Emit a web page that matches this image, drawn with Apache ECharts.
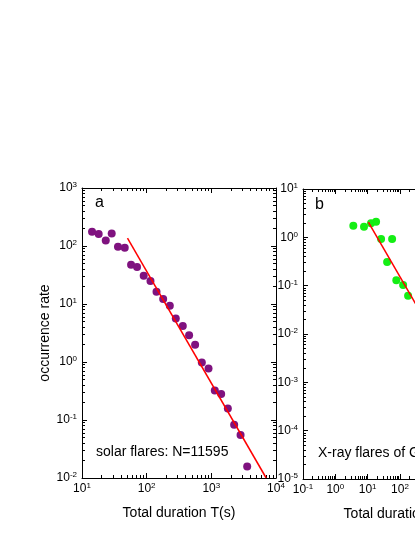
<!DOCTYPE html>
<html><head><meta charset="utf-8">
<script src="https://cdn.jsdelivr.net/npm/echarts@6/dist/echarts.min.js"></script>
<style>html,body{margin:0;padding:0;background:#fff}#c{width:415px;height:537px}</style>
</head><body><div id="c"></div>
<script>
// Panel a: solar flares
const solarX = [14.3, 18.1, 23.3, 28.8, 36, 45.8, 57.4, 71, 90, 114.5, 142, 180, 228, 282, 362, 453, 561, 713, 905, 1132, 1419, 1800, 2254, 2831, 3583];
const solarY = [176, 161, 125, 165, 97, 93, 47.6, 43.5, 30.7, 25, 16.3, 12.2, 9.35, 5.65, 4.18, 2.88, 1.99, 0.98, 0.776, 0.324, 0.28, 0.158, 0.083, 0.055, 0.0158];
const solarFitX = [50.5, 7050];
const solarFitY = [137, 0.01];
// Panel b: X-ray flares of GRBs
const grbX = [3.6, 7.7, 12.7, 18.2, 26, 40, 57, 77, 125, 178];
const grbY = [1.74, 1.66, 1.95, 2.1, 0.92, 0.31, 0.92, 0.13, 0.103, 0.062];
const grbFitX = [10.5, 10000];
const grbFitY = [2.07, 0.00074];
// tick label exponents (labels are 10^n)
const xTickExpA = [1, 2, 3, 4];
const yTickExpA = [-2, -1, 0, 1, 2, 3];
const xTickExpB = [-1, 0, 1, 2, 3, 4, 5];
const yTickExpB = [-5, -4, -3, -2, -1, 0, 1];
const xTitle = 'Total duration T(s)';
const yTitle = 'occurrence rate';
const textA = 'solar flares: N=11595';
const textB = 'X-ray flares of GRBs';

const FONT = '"Liberation Sans", Arial, Helvetica, sans-serif';
const rich = {
  b: {fontSize: 12, fontFamily: FONT, color: '#000'},
  e: {fontSize: 8, fontFamily: FONT, color: '#000', verticalAlign: 'bottom', padding: [0, 0, 6, 0]}
};
function fmt(v) { return '{b|10}{e|' + Math.round(v) + '}'; }
function minors(lo, hi) {
  const out = [];
  for (let n = lo; n < hi; n++) for (let k = 2; k <= 9; k++) out.push(n + Math.log10(k));
  return out;
}
function deco(grid, ticks, pos, minor, extra) {
  const lo = ticks[0], hi = ticks[ticks.length - 1];
  const ax = {
    type: 'value', gridIndex: grid, position: pos, min: lo, max: hi, interval: 1,
    axisLine: {show: !minor, onZero: false, lineStyle: {color: '#000', width: 1}},
    axisTick: {show: true, inside: true, length: minor ? 3 : 5, lineStyle: {color: '#000', width: 1}},
    axisLabel: {show: false},
    splitLine: {show: false}, minorTick: {show: false}, minorSplitLine: {show: false},
    axisPointer: {show: false}
  };
  if (minor) ax.axisTick.customValues = minors(lo, hi);
  return Object.assign(ax, extra || {});
}
const nameStyle = {fontSize: 14, fontFamily: FONT, color: '#000'};
const xLab = {show: true, formatter: fmt, rich: rich, margin: 4};
const yLab = {show: true, formatter: fmt, rich: rich, margin: 5};

const xAxes = [
  {type: 'log', logBase: 10, gridIndex: 0, min: Math.pow(10, xTickExpA[0]), max: Math.pow(10, xTickExpA[xTickExpA.length - 1]), show: false},
  {type: 'log', logBase: 10, gridIndex: 1, min: Math.pow(10, xTickExpB[0]), max: Math.pow(10, xTickExpB[xTickExpB.length - 1]), show: false},
  deco(0, xTickExpA, 'bottom', false, {axisLabel: xLab, name: xTitle, nameLocation: 'middle', nameGap: 28, nameTextStyle: nameStyle}),
  deco(0, xTickExpA, 'bottom', true),
  deco(0, xTickExpA, 'top', false),
  deco(0, xTickExpA, 'top', true),
  deco(1, xTickExpB, 'bottom', false, {axisLabel: xLab, name: xTitle, nameLocation: 'middle', nameGap: 28, nameTextStyle: nameStyle}),
  deco(1, xTickExpB, 'bottom', true),
  deco(1, xTickExpB, 'top', false),
  deco(1, xTickExpB, 'top', true)
];
const yAxes = [
  {type: 'log', logBase: 10, gridIndex: 0, min: Math.pow(10, yTickExpA[0]), max: Math.pow(10, yTickExpA[yTickExpA.length - 1]), show: false},
  {type: 'log', logBase: 10, gridIndex: 1, min: Math.pow(10, yTickExpB[0]), max: Math.pow(10, yTickExpB[yTickExpB.length - 1]), show: false},
  deco(0, yTickExpA, 'left', false, {axisLabel: yLab, name: yTitle, nameLocation: 'middle', nameGap: 30, nameTextStyle: nameStyle}),
  deco(0, yTickExpA, 'left', true),
  deco(0, yTickExpA, 'right', false),
  deco(0, yTickExpA, 'right', true),
  deco(1, yTickExpB, 'left', false, {axisLabel: yLab}),
  deco(1, yTickExpB, 'left', true),
  deco(1, yTickExpB, 'right', false),
  deco(1, yTickExpB, 'right', true)
];

function pairs(xs, ys) { return xs.map((x, i) => [x, ys[i]]); }

const chart = echarts.init(document.getElementById('c'), null, {renderer: 'canvas'});
chart.setOption({
  animation: false,
  backgroundColor: '#fff',
  textStyle: {fontFamily: FONT},
  grid: [
    {left: 82, top: 188, width: 194, height: 290, containLabel: false, outerBoundsMode: 'none'},
    {left: 303, top: 189, width: 194, height: 290, containLabel: false, outerBoundsMode: 'none'}
  ],
  xAxis: xAxes,
  yAxis: yAxes,
  series: [
    {type: 'scatter', xAxisIndex: 0, yAxisIndex: 0, data: pairs(solarX, solarY), symbolSize: 8,
     itemStyle: {color: '#7f127f', opacity: 1}, z: 2},
    {type: 'line', xAxisIndex: 0, yAxisIndex: 0, data: pairs(solarFitX, solarFitY), showSymbol: false, symbol: 'none',
     lineStyle: {color: '#ff0000', width: 1.5}, z: 3, clip: true},
    {type: 'scatter', xAxisIndex: 1, yAxisIndex: 1, data: pairs(grbX, grbY), symbolSize: 8,
     itemStyle: {color: '#14ee14', opacity: 1}, z: 2},
    {type: 'line', xAxisIndex: 1, yAxisIndex: 1, data: pairs(grbFitX, grbFitY), showSymbol: false, symbol: 'none',
     lineStyle: {color: '#ff0000', width: 1.5}, z: 3, clip: true}
  ],
  graphic: [
    {type: 'text', left: 95, top: 195, style: {text: 'a', fontSize: 16, fontFamily: FONT, fill: '#000'}},
    {type: 'text', left: 96, top: 445, style: {text: textA, fontSize: 14, fontFamily: FONT, fill: '#000'}},
    {type: 'text', left: 315, top: 197, style: {text: 'b', fontSize: 16, fontFamily: FONT, fill: '#000'}},
    {type: 'text', left: 318, top: 446, style: {text: textB, fontSize: 14, fontFamily: FONT, fill: '#000'}}
  ]
});
</script>
</body></html>
